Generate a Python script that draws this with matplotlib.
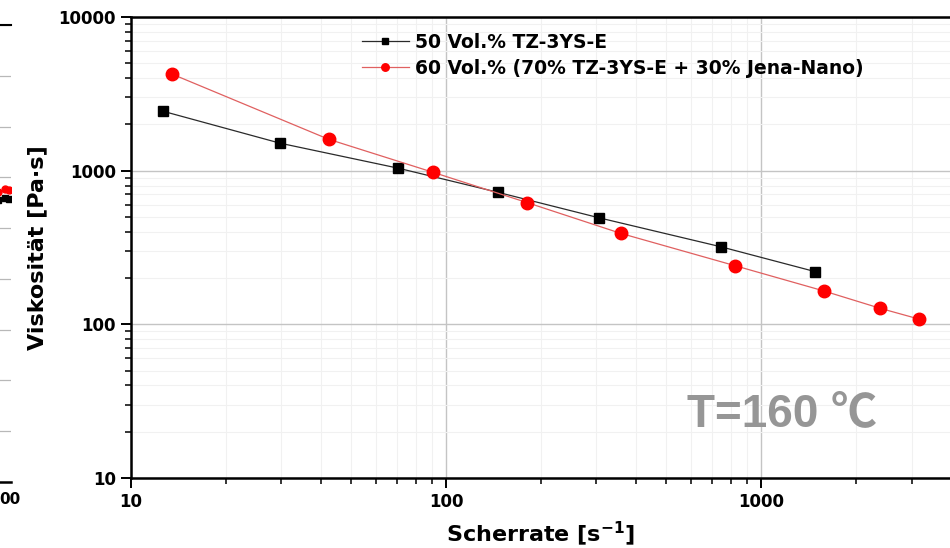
import numpy as np
import matplotlib
matplotlib.use("Agg")
import matplotlib.pyplot as plt
from matplotlib.ticker import LogLocator, NullFormatter, FixedLocator

plt.rcParams['font.family'] = ['DejaVu Sans']

# Scherrate [1/s] and Viskositaet [Pa s]
rate_50 = [12.6, 29.7, 70.6, 146, 305, 743, 1486]
visc_50 = [2440, 1510, 1037, 723, 494, 320, 220]

rate_60 = [13.5, 42.4, 91, 181, 358, 824, 1578, 2388, 3177]
visc_60 = [4250, 1600, 975, 619, 391, 241, 165, 127, 108]

label_50 = "50 Vol.% TZ-3YS-E"
label_60 = "60 Vol.% (70% TZ-3YS-E + 30% Jena-Nano)"
temp_text = "T=160 \u2103"

# neighbouring panel (only its right edge is in view)
nb_x = [0.94, 0.97, 0.99]
nb_black = [5.55, 5.6, 5.58]
nb_red = [5.72, 5.78, 5.75]
nb_tick = "00"

W, H = 950, 548
fig = plt.figure(figsize=(W / 100, H / 100), dpi=100)

# ---------------- neighbour panel --------------------
ax0 = fig.add_axes([-200 / W, 1 - 482 / H, 211 / W, 457 / H])
ax0.set_xlim(0, 1)
ax0.set_ylim(0, 9)
ax0.set_yticks(range(10))
ax0.yaxis.grid(True, color="#b8b8b8", lw=0.9)
ax0.tick_params(left=False, labelleft=False, bottom=False)
ax0.set_xticks([0.995])
ax0.set_xticklabels([nb_tick], fontweight="bold", fontsize=11)
ax0.spines['left'].set_visible(False)
ax0.spines['right'].set_visible(False)
ax0.spines['top'].set_linewidth(1.5)
ax0.spines['bottom'].set_linewidth(1.8)
ax0.plot(nb_x, nb_black, 's', color="black", ms=4.5)
ax0.plot(nb_x, nb_red, 'o', color="red", ms=5)

# ---------------- main panel -------------------------
left, right = 131, 951
top, bottom = 17, 478
ax = fig.add_axes([left / W, 1 - bottom / H, (right - left) / W, (bottom - top) / H])
ax.set_xscale('log')
ax.set_yscale('log')
ax.set_xlim(10, 4000)
ax.set_ylim(10, 10000)

ax.grid(True, which='major', color="#c4c4c4", lw=1.0)
ax.grid(True, which='minor', color="#f1f1f1", lw=0.8)
ax.set_axisbelow(True)

ax.plot(rate_50, visc_50, '-', color="#2a2a2a", lw=0.9, marker='s',
        ms=7.5, mfc="black", mec="black", label=label_50, zorder=3)
ax.plot(rate_60, visc_60, '-', color="#e06060", lw=0.9, marker='o',
        ms=9, mfc="red", mec="red", label=label_60, zorder=3)

ax.xaxis.set_major_locator(FixedLocator([10, 100, 1000]))
ax.yaxis.set_major_locator(FixedLocator([10, 100, 1000, 10000]))
ax.xaxis.set_minor_locator(LogLocator(base=10, subs=np.arange(2, 10)))
ax.yaxis.set_minor_locator(LogLocator(base=10, subs=np.arange(2, 10)))
ax.xaxis.set_minor_formatter(NullFormatter())
ax.yaxis.set_minor_formatter(NullFormatter())
ax.set_xticklabels(["10", "100", "1000"])
ax.set_yticklabels(["10", "100", "1000", "10000"])

ax.tick_params(which='major', direction='out', length=7, width=1.4,
               labelsize=12, pad=4)
ax.tick_params(which='minor', direction='out', length=4, width=1.1)
for lab in ax.get_xticklabels() + ax.get_yticklabels():
    lab.set_fontweight('bold')

for side in ['left', 'bottom', 'top', 'right']:
    ax.spines[side].set_linewidth(1.8)

ax.set_xlabel("Scherrate [s$^{\\mathbf{-1}}$]", fontsize=16, fontweight='bold', labelpad=6)
ax.set_ylabel("Viskosit\u00e4t [Pa\u00b7s]", fontsize=16, fontweight='bold', labelpad=8)

leg = ax.legend(loc='upper left', bbox_to_anchor=(362 / W, 1 - 33 / H),
                bbox_transform=fig.transFigure, frameon=False,
                borderpad=0, borderaxespad=0, handlelength=2.5,
                handletextpad=0.35, labelspacing=0.35, markerscale=0.6,
                prop={'weight': 'bold', 'size': 13.5})

ax.text(0.678, 0.113, temp_text, transform=ax.transAxes, fontsize=33,
        fontweight='bold', color="#969696",
        family=['Liberation Sans', 'Noto Sans CJK SC', 'DejaVu Sans'])

fig.savefig("out.png", dpi=100)
